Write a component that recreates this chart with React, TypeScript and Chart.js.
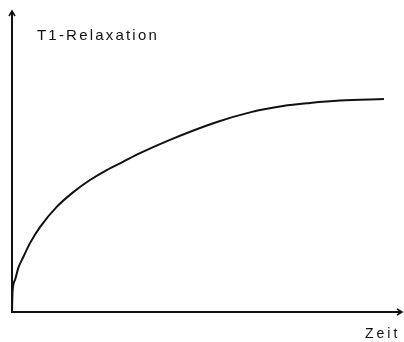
import React, { useEffect, useRef } from "react";
import { Chart, registerables } from "chart.js";

Chart.register(...registerables);

// Time axis (arbitrary units, 0..100) and T1 relaxation values (0..100)
const time = [0, 0.13, 0.77, 1.62, 2.9, 4.62, 7.18, 11.46, 15.72, 20.0, 24.28, 28.54, 32.82, 40.51, 52.56, 61.03, 69.49, 76.41, 84.1, 95.38];
const relaxation = [0, 6.6, 10.6, 14.6, 18.2, 22.8, 28.1, 34.8, 39.7, 43.7, 47.0, 49.8, 52.6, 57.0, 62.9, 66.1, 68.2, 69.2, 70.0, 70.5];
const yLabel = "T1-Relaxation";
const xLabel = "Zeit";

const axesPlugin = {
  id: "axesPlugin",
  afterDatasetsDraw(chart: any) {
    const ctx = chart.ctx as CanvasRenderingContext2D;
    const xs = chart.scales.x;
    const ys = chart.scales.y;
    const x0 = xs.getPixelForValue(0);
    const x1 = xs.getPixelForValue(100);
    const y0 = ys.getPixelForValue(0);
    const y1 = ys.getPixelForValue(100);
    ctx.save();
    ctx.strokeStyle = "#111";
    ctx.fillStyle = "#111";
    ctx.lineWidth = 2;
    ctx.lineCap = "butt";
    // y axis
    ctx.beginPath();
    ctx.moveTo(x0, y0 + 1);
    ctx.lineTo(x0, y1 + 2);
    ctx.stroke();
    // y arrowhead
    ctx.lineWidth = 1.5;
    ctx.beginPath();
    ctx.moveTo(x0 - 3, y1 + 6);
    ctx.lineTo(x0, y1 + 1);
    ctx.lineTo(x0 + 3, y1 + 6);
    ctx.stroke();
    // x axis
    ctx.lineWidth = 2;
    ctx.beginPath();
    ctx.moveTo(x0 - 1, y0);
    ctx.lineTo(x1, y0);
    ctx.stroke();
    // x arrowhead
    ctx.lineWidth = 1.5;
    ctx.beginPath();
    ctx.moveTo(x1 - 5, y0 - 3);
    ctx.lineTo(x1, y0);
    ctx.lineTo(x1 - 5, y0 + 3);
    ctx.stroke();
    // labels
    ctx.textAlign = "left";
    ctx.textBaseline = "alphabetic";
    ctx.font = "15px 'Liberation Sans', Arial, sans-serif";
    (ctx as any).letterSpacing = "2.2px";
    ctx.fillStyle = "#111";
    ctx.fillText(yLabel, x0 + 25, 40);
    ctx.font = "14px 'Liberation Sans', Arial, sans-serif";
    (ctx as any).letterSpacing = "3px";
    ctx.fillText(xLabel, x1 - 37, 338);
    ctx.restore();
  },
};

export default function App() {
  const ref = useRef<HTMLCanvasElement>(null);
  useEffect(() => {
    if (!ref.current) return;
    const chart = new Chart(ref.current, {
      type: "line",
      data: {
        datasets: [
          {
            data: time.map((t, i) => ({ x: t, y: relaxation[i] })),
            borderColor: "#111",
            borderWidth: 2,
            pointRadius: 0,
            fill: false,
            cubicInterpolationMode: "monotone",
            clip: false as any,
          },
        ],
      },
      options: {
        responsive: false,
        animation: false,
        layout: { padding: { left: 12, right: 2, top: 10, bottom: 30 } },
        plugins: { legend: { display: false }, tooltip: { enabled: false } },
        scales: {
          x: { type: "linear", min: 0, max: 100, display: false },
          y: { type: "linear", min: 0, max: 100, display: false },
        },
      },
      plugins: [axesPlugin],
    });
    return () => chart.destroy();
  }, []);
  return (
    <div style={{ position: "fixed", left: 0, top: 0, width: 404, height: 342, background: "#fff" }}>
      <canvas ref={ref} width={404} height={342} style={{ width: 404, height: 342, display: "block" }} />
    </div>
  );
}
